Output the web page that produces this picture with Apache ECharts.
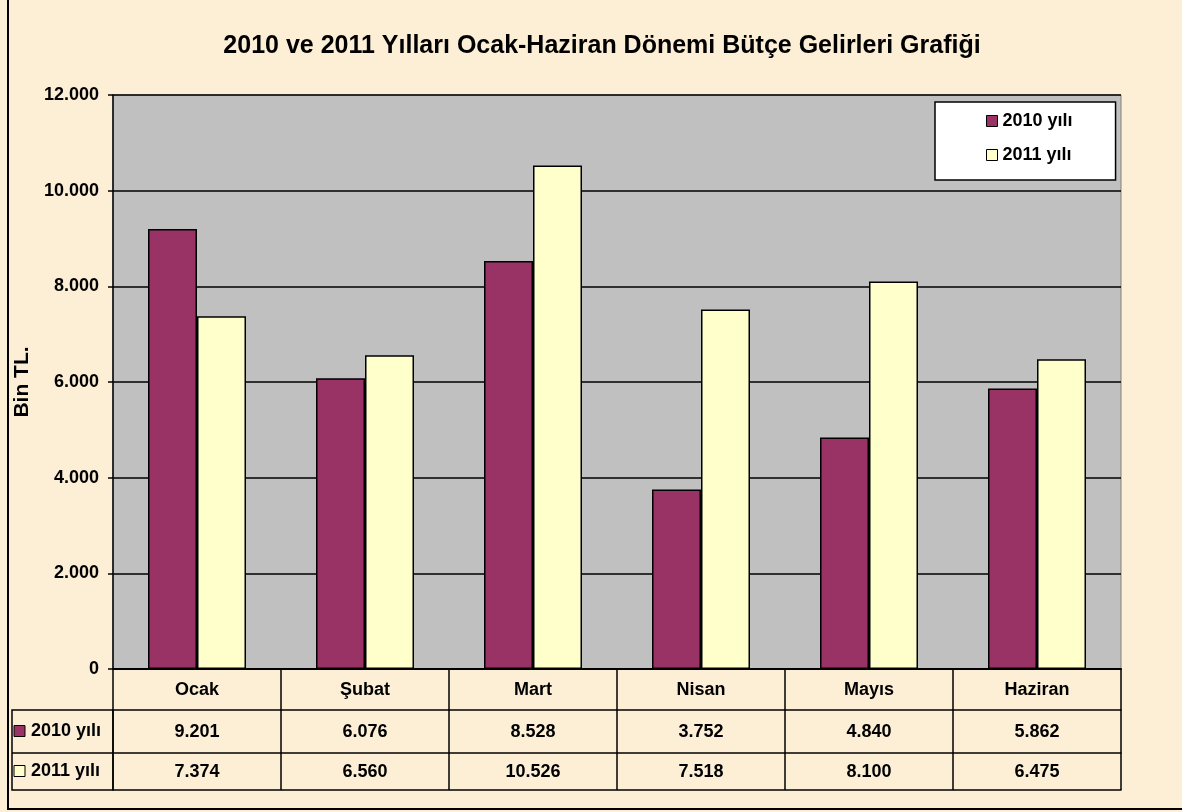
<!DOCTYPE html>
<html>
<head>
<meta charset="utf-8">
<script src="https://cdn.jsdelivr.net/npm/echarts@6/dist/echarts.min.js"></script>
<style>
html, body { margin: 0; padding: 0; background: #FCEFD6; }
#main { width: 1182px; height: 812px; }
</style>
</head>
<body>
<div id="main"></div>
<script>
// veriler
var aylar = ['Ocak', 'Şubat', 'Mart', 'Nisan', 'Mayıs', 'Haziran'];
var seriAdlari = ['2010 yılı', '2011 yılı'];
var yil2010 = [9201, 6076, 8528, 3752, 4840, 5862];
var yil2011 = [7374, 6560, 10526, 7518, 8100, 6475];
var renkler = ['#993366', '#FFFFCC'];

// yerlesim
var gridLeft = 113, gridTop = 95, gridRight = 1121, gridBottom = 669;
var satir1 = 41, satir2 = 84, satir3 = 121; // tablo satir cizgileri (eksenden uzaklik)
var tabloSol = 12;
var yazi = 'Arial, "Liberation Sans", sans-serif';

function binlik(v) {
    return String(v).replace(/\B(?=(\d{3})+(?!\d))/g, '.');
}

var yaziStili = { color: '#000', fontWeight: 'bold', fontFamily: yazi };

var chart = echarts.init(document.getElementById('main'));

// sol tablo hucreleri (seri adlari)
var solHucreler = [];
var satirlar = [[gridBottom + satir1, gridBottom + satir2], [gridBottom + satir2, gridBottom + satir3]];
solHucreler.push({
    type: 'rect', z: 10,
    shape: { x: tabloSol, y: gridBottom + satir1, width: gridLeft - tabloSol, height: satir3 - satir1 },
    style: { fill: 'none', stroke: '#000', lineWidth: 1.5 }
});
solHucreler.push({
    type: 'line', z: 10,
    shape: { x1: tabloSol, y1: gridBottom + satir2, x2: gridLeft, y2: gridBottom + satir2 },
    style: { stroke: '#000', lineWidth: 1.5 }
});
for (var i = 0; i < seriAdlari.length; i++) {
    var orta = (satirlar[i][0] + satirlar[i][1]) / 2;
    solHucreler.push({
        type: 'rect', z: 10,
        shape: { x: tabloSol + 2, y: orta - 6, width: 11, height: 11 },
        style: { fill: renkler[i], stroke: '#000', lineWidth: 1 }
    });
    solHucreler.push({
        type: 'text', z: 10,
        x: tabloSol + 19, y: orta,
        style: { text: seriAdlari[i], fontSize: 18, fontWeight: 'bold', fontFamily: yazi,
            verticalAlign: 'middle', fill: '#000' }
    });
}

var option = {
    backgroundColor: '#FCEFD6',
    animation: false,
    title: {
        text: '2010 ve 2011 Yılları Ocak-Haziran Dönemi Bütçe Gelirleri Grafiği',
        left: 597,
        textAlign: 'center',
        top: 29,
        textStyle: Object.assign({ fontSize: 25 }, yaziStili)
    },
    legend: {
        orient: 'vertical',
        left: 935,
        top: 102,
        backgroundColor: '#fff',
        borderColor: '#000',
        borderWidth: 1.5,
        padding: [10, 43, 16, 51],
        itemGap: 16,
        itemWidth: 11,
        itemHeight: 11,
        icon: 'rect',
        itemStyle: { borderColor: '#000', borderWidth: 1 },
        textStyle: Object.assign({ fontSize: 18, lineHeight: 18 }, yaziStili),
        data: seriAdlari
    },
    grid: {
        left: gridLeft,
        top: gridTop,
        right: 1182 - gridRight,
        bottom: 812 - gridBottom,
        show: true,
        backgroundColor: '#C0C0C0',
        borderColor: '#808080',
        borderWidth: 1
    },
    xAxis: [{
        type: 'category',
        data: aylar,
        position: 'bottom',
        axisLine: { lineStyle: { color: '#000', width: 2 } },
        axisTick: { show: true, length: satir3, lineStyle: { color: '#000', width: 1.5 } },
        axisLabel: Object.assign({ fontSize: 18, margin: 21, verticalAlign: 'middle' }, yaziStili)
    }, {
        type: 'category',
        data: aylar,
        position: 'bottom',
        offset: satir1,
        axisLine: { lineStyle: { color: '#000', width: 1.5 } },
        axisTick: { show: false },
        axisLabel: Object.assign({ fontSize: 18, margin: 22, verticalAlign: 'middle',
            formatter: function (v, i) { return binlik(yil2010[i]); } }, yaziStili)
    }, {
        type: 'category',
        data: aylar,
        position: 'bottom',
        offset: satir2,
        axisLine: { lineStyle: { color: '#000', width: 1.5 } },
        axisTick: { show: false },
        axisLabel: Object.assign({ fontSize: 18, margin: 19, verticalAlign: 'middle',
            formatter: function (v, i) { return binlik(yil2011[i]); } }, yaziStili)
    }, {
        type: 'category',
        data: aylar,
        position: 'bottom',
        offset: satir3,
        axisLine: { lineStyle: { color: '#000', width: 1.5 } },
        axisTick: { show: false },
        axisLabel: { show: false }
    }],
    yAxis: {
        type: 'value',
        min: 0,
        max: 12000,
        interval: 2000,
        name: 'Bin TL.',
        nameLocation: 'middle',
        nameRotate: 90,
        nameGap: 77,
        nameTextStyle: Object.assign({ fontSize: 21 }, yaziStili),
        axisLine: { show: true, lineStyle: { color: '#000', width: 1.5 } },
        axisTick: { show: true, length: 5, lineStyle: { color: '#000', width: 1.5 } },
        axisLabel: Object.assign({ fontSize: 18, margin: 14, formatter: binlik }, yaziStili),
        splitLine: { show: true, lineStyle: { color: '#000', width: 1.5 } }
    },
    series: [{
        name: seriAdlari[0],
        type: 'bar',
        data: yil2010,
        barWidth: 49,
        barGap: '0%',
        itemStyle: { color: renkler[0], borderColor: '#000', borderWidth: 1.5 }
    }, {
        name: seriAdlari[1],
        type: 'bar',
        data: yil2011,
        barWidth: 49,
        barGap: '0%',
        itemStyle: { color: renkler[1], borderColor: '#000', borderWidth: 1.5 }
    }],
    graphic: solHucreler.concat([{
        type: 'rect', z: 10,
        shape: { x: 8, y: -10, width: 1200, height: 819 },
        style: { fill: 'none', stroke: '#000', lineWidth: 2 }
    }])
};

chart.setOption(option);
</script>
</body>
</html>
